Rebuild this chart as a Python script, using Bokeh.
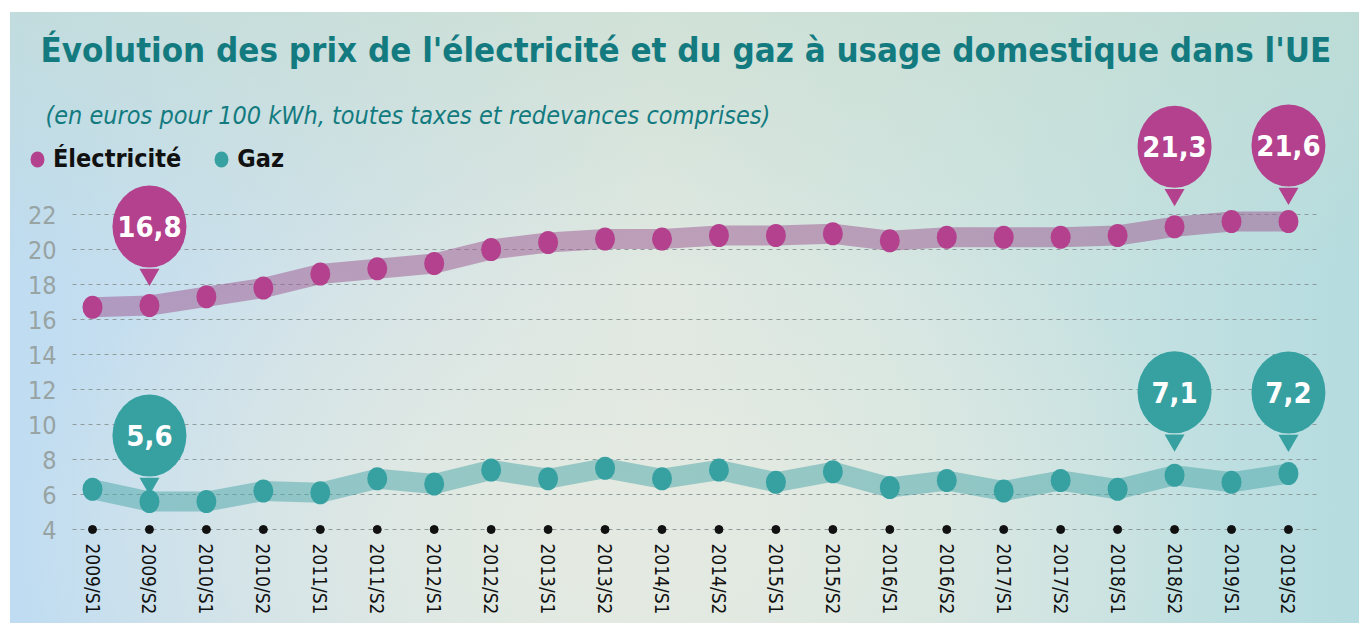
from bokeh.plotting import figure
from bokeh.models import FixedTicker, Label, Legend, LegendItem, ColumnDataSource
from bokeh.core.properties import value
from bokeh.embed import file_html
from bokeh.resources import INLINE

# ---------------- data ----------------
periods = ["2009/S1", "2009/S2", "2010/S1", "2010/S2", "2011/S1", "2011/S2",
           "2012/S1", "2012/S2", "2013/S1", "2013/S2", "2014/S1", "2014/S2",
           "2015/S1", "2015/S2", "2016/S1", "2016/S2", "2017/S1", "2017/S2",
           "2018/S1", "2018/S2", "2019/S1", "2019/S2"]
electricite = [16.7, 16.8, 17.3, 17.8, 18.6, 18.9, 19.2, 20.0, 20.4, 20.6, 20.6,
               20.8, 20.8, 20.9, 20.5, 20.7, 20.7, 20.7, 20.8, 21.3, 21.6, 21.6]
gaz = [6.3, 5.6, 5.6, 6.2, 6.1, 6.9, 6.6, 7.4, 6.9, 7.5, 6.9,
       7.4, 6.7, 7.3, 6.4, 6.8, 6.2, 6.8, 6.3, 7.1, 6.7, 7.2]
y_ticks = [4, 6, 8, 10, 12, 14, 16, 18, 20, 22]
callout_periods = ["2009/S2", "2018/S2", "2019/S2"]

# ---------------- styling ----------------
FONT = "DejaVu Sans Condensed, Roboto, sans-serif"
MAGENTA = "#b3418d"
TEAL = "#37a1a2"
TITLE_TEAL = "#137b80"

W, H = 1349, 611
frame_h = H
frame_w = W
pxu = 17.5                     # px per y unit
dx = 56.95                     # px per period
base_px = 517                  # canvas row of the lowest tick
y0 = y_ticks[0] - (H - base_px) / pxu
y1 = y0 + frame_h / pxu
x0 = -82 / dx                  # frame starts at the canvas left edge
x1 = x0 + frame_w / dx
grid_left = -20 / dx           # plot area (grid) left, in data units
grid_right = len(periods) - 1 + 30 / dx
axis_y = y_ticks[0] - 5 / pxu  # x-axis drawn just under the lowest grid line

xs = list(range(len(periods)))

p = figure(width=W, height=H, output_backend="svg", toolbar_location=None,
           x_range=(x0, x1), y_range=(y0, y1),
           min_border_left=0, min_border_right=0,
           min_border_top=0, min_border_bottom=0)
p.margin = (12, 0, 0, 10)
p.background_fill_color = None
p.border_fill_color = None
p.outline_line_color = None
p.styles = {
    "background": (
        "linear-gradient(180deg, rgba(196,220,206,0.55) 0%, rgba(196,220,206,0) 45%),"
        "radial-gradient(ellipse 45% 60% at 45% 85%, rgba(228,234,225,1) 0%, rgba(228,234,225,0) 100%),"
        "linear-gradient(90deg, #bfdcf2 0%, #d3e3e8 28%, #e0e8e2 48%, #d2e5e2 68%, #b5dce0 100%)"
    )
}

# grid (horizontal dashed lines limited to the plot area)
p.xgrid.visible = False
p.ygrid.visible = False
p.segment(x0=[grid_left] * len(y_ticks), x1=[grid_right] * len(y_ticks),
          y0=y_ticks, y1=y_ticks, line_color="#8f9c9c", line_dash="4 4",
          line_width=1)

# y axis (drawn at the plot-area left edge)
p.yaxis.fixed_location = grid_left
p.yaxis.ticker = FixedTicker(ticks=y_ticks)
p.yaxis.axis_line_color = None
p.yaxis.major_tick_line_color = None
p.yaxis.minor_tick_line_color = None
p.yaxis.major_label_standoff = 10
p.yaxis.major_label_text_font = FONT
p.yaxis.major_label_text_font_size = "25px"
p.yaxis.major_label_text_color = "#98a3a3"

# x axis (drawn just below the lowest grid line)
p.xaxis.fixed_location = axis_y
p.xaxis.ticker = FixedTicker(ticks=xs)
p.xaxis.major_label_overrides = {i: lab for i, lab in enumerate(periods)}
p.xaxis.major_label_orientation = "vertical"
p.xaxis.axis_line_color = None
p.xaxis.major_tick_line_color = None
p.xaxis.minor_tick_line_color = None
p.xaxis.major_label_standoff = 3
p.xaxis.major_label_text_font = FONT
p.xaxis.major_label_text_font_size = "19px"
p.xaxis.major_label_text_color = "#111111"

# black dots on the baseline
p.scatter(xs, [y_ticks[0]] * len(xs), size=8, color="#111111")

# bands
p.line(xs, electricite, line_width=20, line_color="#9c5590", line_alpha=0.5,
       line_join="round", line_cap="butt")
p.line(xs, gaz, line_width=20, line_color="#49a6a8", line_alpha=0.5,
       line_join="round", line_cap="butt")

# dots
r_el = p.ellipse(xs, electricite, width=20, height=23, width_units="screen",
                 height_units="screen", fill_color=MAGENTA, line_color=None)
r_gz = p.ellipse(xs, gaz, width=20, height=23, width_units="screen",
                 height_units="screen", fill_color=TEAL, line_color=None)

# callouts
lifts = {"el": [79, 80, 76], "gz": [66, 83, 81]}
BW, BH = 74, 82
for key, series, color in (("el", electricite, MAGENTA), ("gz", gaz, TEAL)):
    idx = [periods.index(c) for c in callout_periods]
    cx = [xs[i] for i in idx]
    vals = [series[i] for i in idx]
    cy = [v + l / pxu for v, l in zip(vals, lifts[key])]
    py = [c - (BH / 2 + 7) / pxu for c in cy]
    p.scatter(cx, py, marker="inverted_triangle", size=20, fill_color=color,
              line_color=None)
    p.ellipse(cx, cy, width=BW, height=BH, width_units="screen",
              height_units="screen", fill_color=color, line_color=None)
    src = ColumnDataSource(dict(x=cx, y=cy,
                                t=[f"{v:.1f}".replace(".", ",") for v in vals]))
    p.text("x", "y", text="t", source=src, text_align="center",
           text_baseline="middle", text_font=value(FONT),
           text_font_size="29px", text_font_style="bold", text_color="white")

# legend
legend = Legend(items=[LegendItem(label="Électricité", renderers=[r_el]),
                       LegendItem(label="Gaz", renderers=[r_gz])],
                orientation="horizontal", location=(17, 450),
                background_fill_alpha=0, border_line_color=None,
                label_text_font=FONT, label_text_font_size="25px",
                label_text_font_style="bold", label_text_color="#111111",
                glyph_width=20, glyph_height=20, spacing=30,
                label_standoff=6, padding=0, margin=0)
p.add_layout(legend)

# title & subtitle
p.add_layout(Label(x=30, y=574, x_units="screen", y_units="screen",
                   text="Évolution des prix de l'électricité et du gaz à usage domestique dans l'UE",
                   text_font=FONT, text_font_size="34.6px", text_font_style="bold",
                   text_color=TITLE_TEAL, text_baseline="alphabetic"))
p.add_layout(Label(x=35, y=508, x_units="screen", y_units="screen",
                   text="(en euros pour 100 kWh, toutes taxes et redevances comprises)",
                   text_font=FONT, text_font_size="25px", text_font_style="italic",
                   text_color=TITLE_TEAL, text_baseline="alphabetic"))

open("out.html", "w").write(file_html(p, INLINE))
